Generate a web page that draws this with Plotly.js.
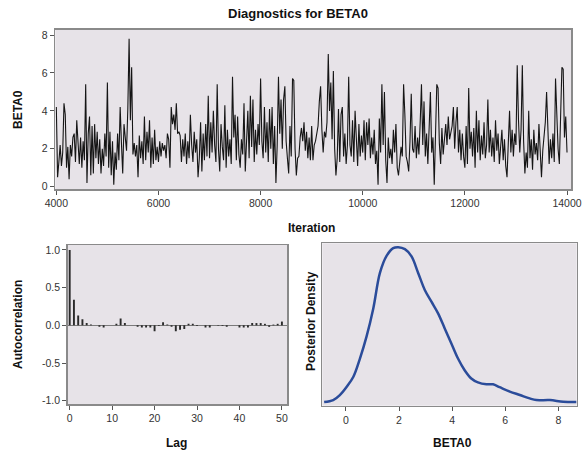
<!DOCTYPE html>
<html>
<head>
<meta charset="utf-8">
<script src="https://cdn.plot.ly/plotly-3.0.1.min.js"></script>
<style>
html,body{margin:0;padding:0;background:#fff;}
#chart{width:582px;height:456px;}
</style>
</head>
<body>
<div id="chart"></div>
<script>
// ---- Data ----
const iterStart = 4000;
const iterStep = 25;
const traceValues = [
  4.2,0.5,1.3,2.2,1.1,1.8,4.4,3.8,1.0,2.1,0.4,2.2,1.6,2.6,2.8,1.3,3.5,2.0,1.2,2.6,
  1.0,2.4,1.4,5.4,0.2,2.8,3.7,0.6,3.2,0.7,3.3,1.5,2.9,1.2,2.5,0.7,2.0,1.1,2.8,1.6,
  5.5,1.0,2.9,0.6,2.4,0.1,1.8,0.9,2.8,1.4,4.2,2.3,0.7,3.3,2.4,1.9,4.1,7.8,3.5,6.3,
  1.7,2.3,1.6,2.2,0.5,2.7,1.5,2.4,1.2,3.7,1.4,2.9,1.8,3.5,1.0,2.6,1.2,3.0,1.4,2.1,
  1.3,2.4,1.6,2.3,1.9,2.2,1.5,2.8,2.5,1.0,4.2,3.3,3.8,3.0,4.4,2.8,2.9,2.7,1.3,2.5,
  1.6,2.8,1.2,2.4,1.5,3.8,2.2,1.3,2.9,1.8,2.5,0.5,1.5,3.4,0.8,2.8,1.4,3.3,1.6,4.8,
  1.5,3.4,1.8,4.0,2.2,1.3,5.4,2.0,0.8,3.3,2.1,1.4,4.3,1.0,3.0,1.6,2.5,1.2,5.8,2.6,
  3.8,1.4,3.7,1.7,1.0,2.5,1.7,4.4,0.8,2.9,4.0,1.5,4.8,2.1,4.6,1.3,3.0,1.7,3.3,2.2,
  5.7,2.4,1.5,4.2,1.8,3.4,1.3,4.1,2.0,4.2,1.2,3.2,0.2,2.2,5.8,2.8,4.6,2.0,4.6,5.3,
  2.4,1.5,0.7,3.2,1.6,5.7,5.6,2.0,0.6,1.5,1.6,2.6,3.1,2.4,3.4,1.9,2.9,1.5,2.6,1.4,
  3.2,1.4,2.2,2.4,2.8,3.2,4.5,5.3,3.0,1.8,2.9,2.6,3.4,7.0,4.0,5.5,2.5,6.1,2.0,0.6,
  1.5,4.1,1.3,3.8,4.2,1.6,2.8,1.2,2.2,5.8,2.2,1.6,3.5,1.3,4.0,2.0,1.1,3.3,1.6,2.7,
  1.8,3.5,1.4,3.4,2.2,3.6,1.5,2.6,1.7,3.0,1.2,1.9,0.1,3.6,1.8,5.4,2.2,5.0,1.4,0.2,
  2.6,1.5,2.0,1.2,3.0,1.8,3.3,1.0,0.6,1.3,2.1,1.6,5.4,3.8,1.6,1.3,0.8,2.4,4.9,2.0,
  1.8,3.2,1.5,2.6,1.7,3.4,5.4,2.2,4.5,1.6,2.8,1.2,3.0,5.0,1.8,2.6,0.1,3.1,5.4,5.2,
  2.3,1.2,3.1,1.7,2.6,3.3,2.2,3.7,2.5,2.9,3.2,4.2,2.0,3.4,4.2,1.8,3.0,1.4,2.8,1.6,
  1.0,3.2,1.2,5.2,2.0,2.9,1.6,3.1,1.0,4.0,1.8,3.5,1.4,2.7,1.7,3.4,1.5,2.2,4.6,1.8,
  3.0,1.6,2.6,1.3,3.5,1.9,2.8,1.2,2.2,3.0,1.4,2.5,1.1,0.5,2.3,4.0,1.8,3.0,1.6,2.8,
  2.2,6.4,3.5,1.8,3.0,6.4,2.4,0.7,1.8,1.0,4.0,1.5,2.5,0.9,3.0,1.7,2.3,1.4,3.3,2.2,
  0.5,1.9,2.6,3.4,5.0,3.5,1.2,2.5,1.5,2.8,1.3,5.7,3.4,2.0,1.2,4.0,6.3,6.2,2.6,3.7,
  1.8
];
const acfValues = [
  1.0,0.34,0.13,0.08,0.03,0.01,0.0,-0.02,-0.03,0.0,
  0.0,0.02,0.09,0.03,0.0,0.0,-0.02,-0.03,-0.03,-0.03,
  -0.08,-0.01,0.04,0.01,-0.02,-0.08,-0.06,-0.05,0.02,0.02,
  -0.01,0.0,-0.03,-0.03,0.0,-0.005,-0.01,-0.02,0.0,0.0,
  -0.03,-0.03,-0.03,0.03,0.03,0.03,0.02,-0.02,0.01,0.02,
  0.05
];
const densX = [-0.82,-0.48,-0.23,0.03,0.28,0.53,0.78,1.03,1.28,1.53,1.78,1.97,2.22,2.47,2.72,2.97,3.22,3.47,3.72,3.97,4.22,4.47,4.72,4.97,5.29,5.54,5.79,6.17,6.55,6.92,7.17,7.68,8.18,8.68];
const densY = [0.0014,0.0055,0.0158,0.033,0.0536,0.0914,0.137,0.194,0.267,0.302,0.318,0.320,0.316,0.301,0.267,0.232,0.208,0.184,0.153,0.122,0.091,0.067,0.050,0.042,0.038,0.038,0.032,0.023,0.016,0.009,0.0055,0.0055,0.002,0.0014];

const traceTicks = [4000,6000,8000,10000,12000,14000];
const traceTickText = ['4000','6000','8000','10000','12000','14000'];
const betaTicks = [0,2,4,6,8];
const betaTickText = ['0','2','4','6','8'];
const acfTicks = [-1.0,-0.5,0.0,0.5,1.0];
const acfTickText = ['-1.0','-0.5','0.0','0.5','1.0'];
const lagTicks = [0,10,20,30,40,50];
const lagTickText = ['0','10','20','30','40','50'];
const densTicks = [0,2,4,6,8];
const densTickText = ['0','2','4','6','8'];

// ---- Build ----
const iterations = traceValues.map((_, i) => iterStart + i * iterStep);
const lags = acfValues.map((_, i) => i);

const W = 582, H = 456;
const px = v => v / W;
const py = v => 1 - v / H;

const BG = '#E7E3E8';
const FRAME = '#8a8a8a';
const tickFont = {family: 'Liberation Sans, Arial, sans-serif', size: 10.5, color: '#333'};
const labFont = {family: 'Liberation Sans, Arial, sans-serif', size: 12, color: '#111', weight: 'bold'};

function axis(extra) {
  return Object.assign({
    showgrid: false, zeroline: false,
    showline: true, mirror: true, linecolor: FRAME, linewidth: 1.5,
    ticks: 'outside', ticklen: 4, tickwidth: 1, tickcolor: '#555',
    tickfont: tickFont, fixedrange: true, tickmode: 'array',
    ticklabeloverflow: 'allow'
  }, extra);
}

const data = [
  {x: iterations, y: traceValues, type: 'scatter', mode: 'lines',
   line: {color: '#151515', width: 1.1}, xaxis: 'x', yaxis: 'y', hoverinfo: 'skip'},
  {x: lags, y: acfValues, type: 'bar', width: 0.45,
   marker: {color: '#2a2a2a', line: {width: 0}}, xaxis: 'x2', yaxis: 'y2', hoverinfo: 'skip'},
  {x: densX, y: densY, type: 'scatter', mode: 'lines', line: {color: '#2B4C9A', width: 2.5, shape: 'spline'},
   xaxis: 'x3', yaxis: 'y3', hoverinfo: 'skip'}
];

const layout = {
  width: W, height: H,
  margin: {l: 0, r: 0, t: 0, b: 0},
  paper_bgcolor: '#fff', plot_bgcolor: BG,
  showlegend: false,
  xaxis: axis({domain: [px(55.3), px(571)], range: [3980, 14078], tickvals: traceTicks, ticktext: traceTickText, anchor: 'y'}),
  yaxis: axis({domain: [py(189), py(29.7)], range: [-0.12, 8.28], tickvals: betaTicks, ticktext: betaTickText, anchor: 'x'}),
  xaxis2: axis({domain: [px(67.7), px(287)], range: [-0.47, 51.2], tickvals: lagTicks, ticktext: lagTickText, anchor: 'y2'}),
  yaxis2: axis({domain: [py(404), py(245)], range: [-1.044, 1.066], tickvals: acfTicks, ticktext: acfTickText, anchor: 'x2',
    zeroline: true, zerolinecolor: '#7a7a7a', zerolinewidth: 1.5}),
  xaxis3: axis({domain: [px(322.3), px(576.7)], range: [-0.89, 8.69], tickvals: densTicks, ticktext: densTickText, anchor: 'y3'}),
  yaxis3: axis({domain: [py(405.7), py(243.3)], range: [-0.006, 0.328], ticks: '', showticklabels: false, anchor: 'x3'}),
  bargap: 0.5,
  annotations: [
    {text: 'Diagnostics for BETA0', x: px(298), y: py(13), font: Object.assign({}, labFont, {size: 13})},
    {text: 'BETA0', x: px(18), y: py(110), textangle: -90, font: labFont},
    {text: 'Iteration', x: px(311), y: py(228), font: labFont},
    {text: 'Autocorrelation', x: px(18), y: py(325), textangle: -90, font: labFont},
    {text: 'Lag', x: px(177), y: py(443), font: labFont},
    {text: 'Posterior Density', x: px(311), y: py(321), textangle: -90, font: labFont},
    {text: 'BETA0', x: px(452), y: py(443), font: labFont}
  ].map(a => Object.assign({xref: 'paper', yref: 'paper', showarrow: false, xanchor: 'center', yanchor: 'middle'}, a))
};

Plotly.newPlot('chart', data, layout, {staticPlot: true, displayModeBar: false});
</script>
</body>
</html>
